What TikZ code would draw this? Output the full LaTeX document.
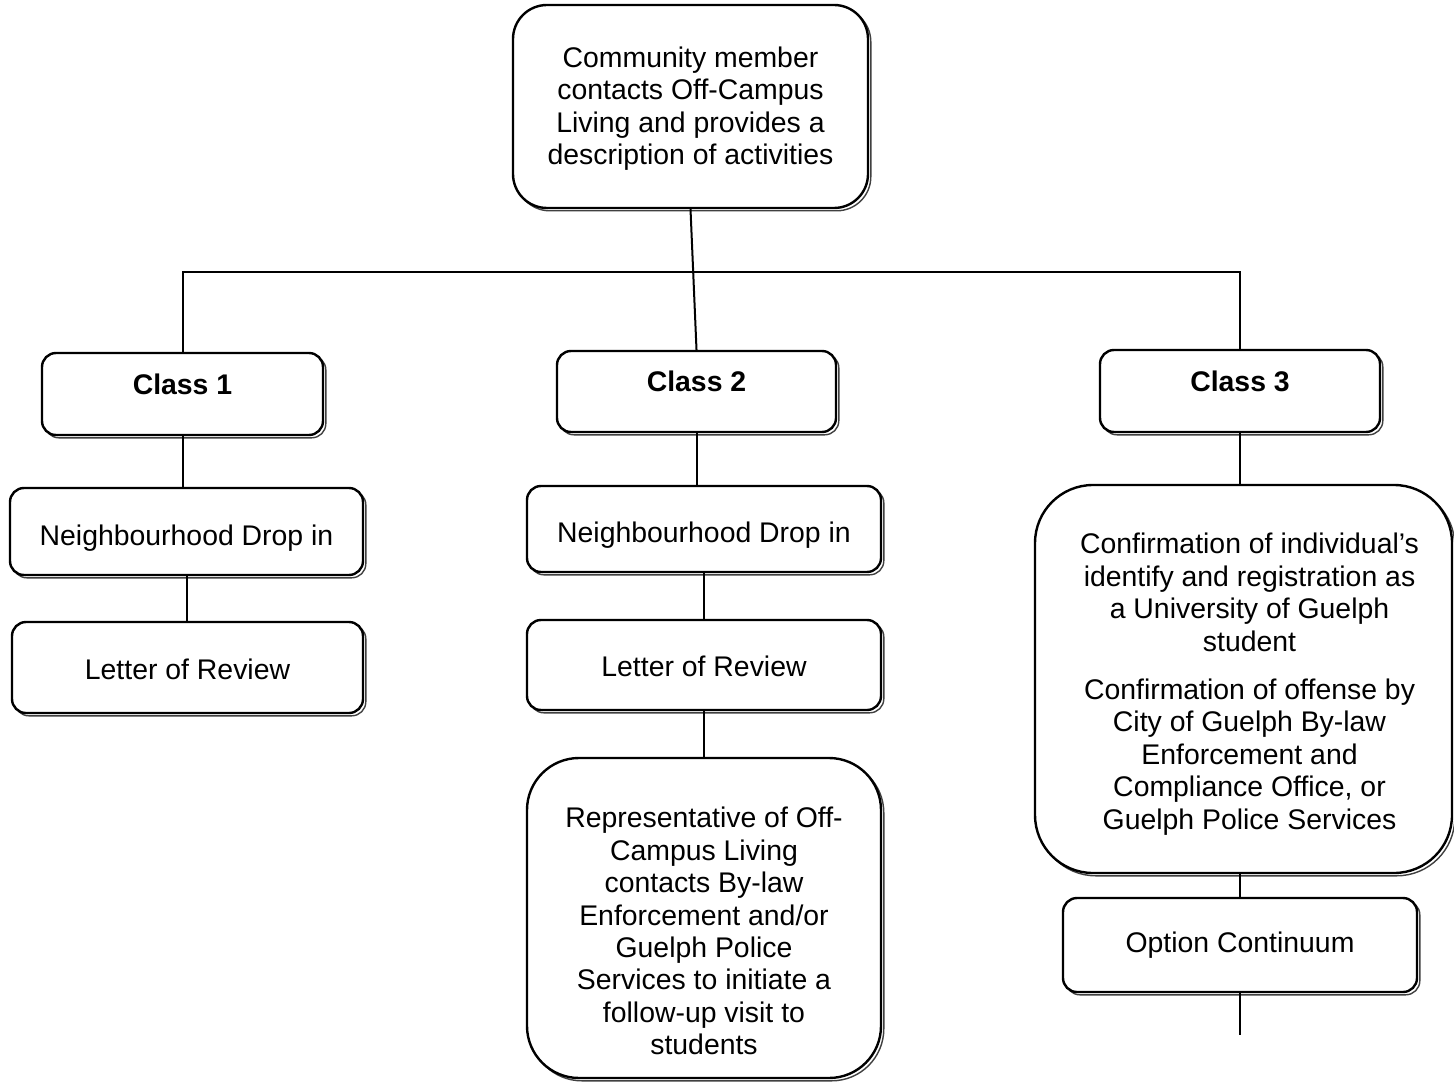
\documentclass[tikz,border=0pt]{standalone}
\usepackage{fontspec}
\setmainfont{Liberation Sans}
\usetikzlibrary{shadows}
\newcommand\dnstrut[1]{\rule{0pt}{\dimexpr10.4pt+#1\relax}}
\begin{document}
\begin{tikzpicture}[x=0.5pt,y=-0.5pt,
  box/.style={draw=black, line width=1.2pt, fill=white, align=center,
    font=\fontsize{14.2}{16.2}\selectfont, inner sep=0pt,
    general shadow={shadow xshift=1.4pt, shadow yshift=-1.4pt, fill=white, draw=black!75, line width=0.7pt}},
  classbox/.style={box, rounded corners=7pt, font=\fontsize{14.2}{16.2}\selectfont\bfseries, text height=8pt, text depth=8pt},
  smallbox/.style={box, rounded corners=7pt},
  conn/.style={draw=black, line width=1pt}]
\useasboundingbox (0,0) rectangle (1454,1085);
\fill[white] (0,0) rectangle (1454,1085);

\node[box, rounded corners=17pt, minimum width=177.5pt, minimum height=101.5pt] (top) at (690.5,106.5)
  {\dnstrut{2pt}Community member\\contacts Off-Campus\\Living and provides a\\description of activities};

\node[classbox, minimum width=140.5pt, minimum height=41pt] (c1) at (182.5,394) {Class 1};
\node[classbox, minimum width=139.5pt, minimum height=40.5pt] (c2) at (696.5,391.5) {Class 2};
\node[classbox, minimum width=140pt, minimum height=41pt] (c3) at (1240,391) {Class 3};

\node[smallbox, minimum width=176.5pt, minimum height=43.5pt] (nd1) at (186.5,531.5) {\dnstrut{7pt}Neighbourhood Drop in};
\node[smallbox, minimum width=175.5pt, minimum height=45.5pt] (lor1) at (187.5,667.5) {\dnstrut{2pt}Letter of Review};

\node[smallbox, minimum width=177pt, minimum height=43pt] (nd2) at (704,529) {\dnstrut{6pt}Neighbourhood Drop in};
\node[smallbox, minimum width=177pt, minimum height=45pt] (lor2) at (704,665) {\dnstrut{1pt}Letter of Review};
\node[box, rounded corners=26pt, minimum width=177pt, minimum height=160pt] (rep) at (704,918)
  {\dnstrut{13pt}Representative of Off-\\Campus Living\\contacts By-law\\Enforcement and/or\\Guelph Police\\Services to initiate a\\follow-up visit to\\students};

\node[box, rounded corners=29pt, minimum width=208.5pt, minimum height=194pt] (conf) at (1243.5,679)
  {\begin{tabular}{@{\hspace{6pt}}c@{}}
   \dnstrut{7pt}Confirmation of individual's\\identify and registration as\\a University of Guelph\\student\\[8pt]Confirmation of offense by\\City of Guelph By-law\\Enforcement and\\Compliance Office, or\\Guelph Police Services
   \end{tabular}};
\node[smallbox, minimum width=177pt, minimum height=47pt] (opt) at (1240,945) {Option Continuum};

\coordinate (bus) at (0,272);
\coordinate (optend) at (1240,1035);

\draw[conn] (top.south) -- (c2.north);
\draw[conn] (c1.north) -- (c1.north |- bus) -- (c3.north |- bus) -- (c3.north);
\draw[conn] (c1.south) -- (c1.south |- nd1.north);
\draw[conn] (nd1.south) -- (nd1.south |- lor1.north);
\draw[conn] (c2.south) -- (c2.south |- nd2.north);
\draw[conn] (nd2.south) -- (nd2.south |- lor2.north);
\draw[conn] (lor2.south) -- (rep.north);
\draw[conn] (c3.south) -- (c3.south |- conf.north);
\draw[conn] (c3.south |- conf.south) -- (opt.north);
\draw[conn] (opt.south) -- (optend);
\end{tikzpicture}
\end{document}
